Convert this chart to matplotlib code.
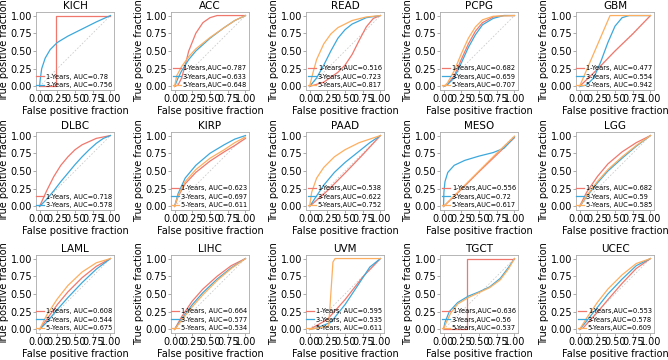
import matplotlib
matplotlib.use("Agg")
import matplotlib.pyplot as plt
from matplotlib.ticker import FormatStrFormatter

# ROC curves, 3 x 5 panels

CANCERS = ["KICH", "ACC", "READ", "PCPG", "GBM",
           "DLBC", "KIRP", "PAAD", "MESO", "LGG",
           "LAML", "LIHC", "UVM", "TGCT", "UCEC"]
YEARS = ["1-Years", "3-Years", "5-Years"]
COLORS = ["#F0776C", "#3DA8DC", "#FDAE5F"]

# each curve: [x points], [y points]
KICH_ROC = [
    ([0, 0.23, 0.23, 1], [0, 0, 1, 1]),
    ([0, 0.01, 0.03, 0.08, 0.15, 0.25, 0.4, 0.6, 0.8, 1],
     [0, 0.1, 0.25, 0.4, 0.52, 0.62, 0.71, 0.81, 0.91, 1]),
]
KICH_AUC = ["0.78", "0.756"]

ACC_ROC = [
    ([0, 0.05, 0.1, 0.15, 0.2, 0.3, 0.4, 0.5, 0.6, 1],
     [0, 0.02, 0.12, 0.3, 0.5, 0.75, 0.9, 0.97, 1, 1]),
    ([0, 0.05, 0.1, 0.2, 0.3, 0.5, 0.7, 0.85, 1],
     [0, 0.12, 0.22, 0.38, 0.5, 0.68, 0.83, 0.93, 1]),
    ([0, 0.03, 0.1, 0.2, 0.3, 0.5, 0.7, 0.85, 1],
     [0, 0.15, 0.28, 0.42, 0.53, 0.69, 0.83, 0.93, 1]),
]
ACC_AUC = ["0.787", "0.633", "0.648"]

READ_ROC = [
    ([0, 0.2, 0.4, 0.5, 0.6, 0.7, 0.8, 0.9, 1],
     [0, 0.06, 0.2, 0.3, 0.45, 0.65, 0.84, 0.96, 1]),
    ([0, 0.1, 0.2, 0.3, 0.4, 0.5, 0.6, 0.8, 1],
     [0, 0.12, 0.3, 0.5, 0.68, 0.8, 0.88, 0.97, 1]),
    ([0, 0.05, 0.1, 0.2, 0.3, 0.4, 0.6, 0.8, 1],
     [0, 0.2, 0.38, 0.6, 0.74, 0.83, 0.93, 0.98, 1]),
]
READ_AUC = ["0.516", "0.723", "0.817"]

PCPG_ROC = [
    ([0, 0.05, 0.15, 0.25, 0.35, 0.45, 0.55, 0.7, 0.85, 1],
     [0, 0.02, 0.15, 0.38, 0.6, 0.78, 0.9, 0.98, 1, 1]),
    ([0, 0.05, 0.15, 0.25, 0.35, 0.45, 0.55, 0.7, 0.85, 1],
     [0, 0.02, 0.12, 0.33, 0.55, 0.73, 0.87, 0.96, 1, 1]),
    ([0, 0.05, 0.15, 0.25, 0.35, 0.45, 0.55, 0.7, 1],
     [0, 0.04, 0.22, 0.46, 0.68, 0.84, 0.94, 0.99, 1]),
]
PCPG_AUC = ["0.682", "0.659", "0.707"]

GBM_ROC = [
    ([0, 0.25, 0.5, 0.75, 1], [0, 0.24, 0.5, 0.74, 1]),
    ([0, 0.1, 0.2, 0.3, 0.4, 0.5, 0.6, 0.7, 1],
     [0, 0.02, 0.12, 0.35, 0.62, 0.85, 0.97, 1, 1]),
    ([0, 0.43, 1], [0, 1, 1]),
]
GBM_AUC = ["0.477", "0.554", "0.942"]

DLBC_ROC = [
    ([0, 0.1, 0.2, 0.3, 0.4, 0.5, 0.6, 0.8, 1],
     [0, 0.22, 0.42, 0.58, 0.7, 0.8, 0.87, 0.96, 1]),
    ([0, 0.1, 0.2, 0.3, 0.4, 0.5, 0.6, 0.7, 0.8, 0.9, 1],
     [0, 0.1, 0.22, 0.35, 0.47, 0.59, 0.7, 0.8, 0.89, 0.96, 1]),
]
DLBC_AUC = ["0.718", "0.578"]

KIRP_ROC = [
    ([0, 0.05, 0.15, 0.3, 0.5, 0.7, 0.85, 1],
     [0, 0.14, 0.32, 0.48, 0.64, 0.77, 0.86, 0.96]),
    ([0, 0.05, 0.15, 0.3, 0.5, 0.7, 0.85, 1],
     [0, 0.18, 0.4, 0.58, 0.75, 0.87, 0.95, 1]),
    ([0, 0.05, 0.15, 0.3, 0.5, 0.7, 0.85, 1],
     [0, 0.15, 0.35, 0.52, 0.68, 0.8, 0.9, 0.98]),
]
KIRP_AUC = ["0.623", "0.697", "0.611"]

PAAD_ROC = [
    ([0, 0.25, 0.5, 0.75, 1], [0, 0.22, 0.47, 0.73, 1]),
    ([0, 0.1, 0.2, 0.35, 0.5, 0.7, 0.85, 1],
     [0, 0.15, 0.3, 0.48, 0.62, 0.78, 0.9, 1]),
    ([0, 0.03, 0.1, 0.2, 0.35, 0.5, 0.7, 0.85, 1],
     [0, 0.2, 0.4, 0.55, 0.7, 0.8, 0.9, 0.95, 1]),
]
PAAD_AUC = ["0.538", "0.622", "0.752"]

MESO_ROC = [
    ([0, 0.25, 0.5, 0.75, 1], [0, 0.24, 0.49, 0.73, 0.97]),
    ([0, 0.005, 0.02, 0.06, 0.15, 0.3, 0.5, 0.7, 0.85, 1],
     [0, 0.2, 0.35, 0.48, 0.58, 0.65, 0.71, 0.76, 0.82, 0.98]),
    ([0, 0.25, 0.5, 0.75, 1], [0, 0.25, 0.5, 0.75, 0.99]),
]
MESO_AUC = ["0.556", "0.72", "0.617"]

LGG_ROC = [
    ([0, 0.1, 0.25, 0.4, 0.6, 0.8, 1], [0, 0.2, 0.42, 0.6, 0.77, 0.9, 1]),
    ([0, 0.1, 0.25, 0.4, 0.6, 0.8, 1], [0, 0.14, 0.33, 0.5, 0.68, 0.85, 1]),
    ([0, 0.1, 0.25, 0.4, 0.6, 0.8, 1], [0, 0.15, 0.35, 0.52, 0.7, 0.86, 1]),
]
LGG_AUC = ["0.682", "0.59", "0.585"]

LAML_ROC = [
    ([0, 0.1, 0.25, 0.4, 0.6, 0.8, 1], [0, 0.14, 0.35, 0.53, 0.73, 0.89, 1]),
    ([0, 0.1, 0.25, 0.4, 0.6, 0.8, 1], [0, 0.1, 0.28, 0.45, 0.66, 0.85, 1]),
    ([0, 0.1, 0.25, 0.4, 0.6, 0.8, 1], [0, 0.2, 0.43, 0.62, 0.81, 0.94, 1]),
]
LAML_AUC = ["0.608", "0.544", "0.675"]

LIHC_ROC = [
    ([0, 0.1, 0.25, 0.4, 0.6, 0.8, 1], [0, 0.18, 0.4, 0.57, 0.75, 0.9, 1]),
    ([0, 0.1, 0.25, 0.4, 0.6, 0.8, 1], [0, 0.15, 0.35, 0.52, 0.71, 0.87, 1]),
    ([0, 0.1, 0.25, 0.4, 0.6, 0.8, 1], [0, 0.13, 0.32, 0.49, 0.69, 0.86, 1]),
]
LIHC_AUC = ["0.664", "0.577", "0.534"]

UVM_ROC = [
    ([0, 0.25, 0.5, 0.75, 1], [0, 0.14, 0.42, 0.74, 1]),
    ([0, 0.1, 0.3, 0.5, 0.7, 0.85, 1], [0, 0.02, 0.1, 0.35, 0.65, 0.88, 1]),
    ([0, 0.27, 0.3, 0.33, 0.36, 1], [0, 0.05, 0.5, 0.95, 1, 1]),
]
UVM_AUC = ["0.595", "0.535", "0.611"]

TGCT_ROC = [
    ([0, 0.33, 0.33, 1], [0, 0, 1, 1]),
    ([0, 0.02, 0.08, 0.2, 0.35, 0.5, 0.65, 0.8, 0.92, 1],
     [0, 0.1, 0.25, 0.38, 0.47, 0.53, 0.6, 0.72, 0.88, 1]),
    ([0, 0.03, 0.1, 0.2, 0.35, 0.5, 0.65, 0.8, 0.92, 1],
     [0, 0.08, 0.23, 0.36, 0.45, 0.52, 0.59, 0.7, 0.86, 1]),
]
TGCT_AUC = ["0.636", "0.56", "0.537"]

UCEC_ROC = [
    ([0, 0.05, 0.25, 0.4, 0.6, 0.8, 1], [0, 0.02, 0.24, 0.42, 0.65, 0.86, 1]),
    ([0, 0.1, 0.25, 0.4, 0.6, 0.8, 1], [0, 0.12, 0.31, 0.5, 0.71, 0.9, 1]),
    ([0, 0.1, 0.25, 0.4, 0.6, 0.8, 1], [0, 0.16, 0.38, 0.57, 0.77, 0.93, 1]),
]
UCEC_AUC = ["0.553", "0.578", "0.609"]

# legend text with or without a space after the comma
SPACED = ["KICH", "GBM", "DLBC", "KIRP", "LGG", "LAML", "LIHC", "UVM"]

PANELS = {
    "KICH": (KICH_ROC, KICH_AUC), "ACC": (ACC_ROC, ACC_AUC),
    "READ": (READ_ROC, READ_AUC), "PCPG": (PCPG_ROC, PCPG_AUC),
    "GBM": (GBM_ROC, GBM_AUC), "DLBC": (DLBC_ROC, DLBC_AUC),
    "KIRP": (KIRP_ROC, KIRP_AUC), "PAAD": (PAAD_ROC, PAAD_AUC),
    "MESO": (MESO_ROC, MESO_AUC), "LGG": (LGG_ROC, LGG_AUC),
    "LAML": (LAML_ROC, LAML_AUC), "LIHC": (LIHC_ROC, LIHC_AUC),
    "UVM": (UVM_ROC, UVM_AUC), "TGCT": (TGCT_ROC, TGCT_AUC),
    "UCEC": (UCEC_ROC, UCEC_AUC),
}

W, H = 668, 360
LEFTS = [36, 171, 306, 440, 576]   # px
TOPS = [12, 132, 255]              # px
AX_W, AX_H = 78, 78

fig = plt.figure(figsize=(W / 100, H / 100), dpi=100)

for k, name in enumerate(CANCERS):
    r, c = divmod(k, 5)
    ax = fig.add_axes([LEFTS[c] / W, 1 - (TOPS[r] + AX_H) / H, AX_W / W, AX_H / H])
    ax.plot([0, 1], [0, 1], color="#cccccc", lw=0.6, ls=(0, (2, 2)))
    roc, aucs = PANELS[name]
    sep = ", " if name in SPACED else ","
    for i, (xs, ys) in enumerate(roc):
        ax.plot(xs, ys, color=COLORS[i], lw=0.9,
                label="{}{}AUC={}".format(YEARS[i], sep, aucs[i]))
    ax.set_xlim(-0.05, 1.05)
    ax.set_ylim(-0.05, 1.05)
    ax.set_xticks([0, 0.25, 0.5, 0.75, 1])
    ax.set_yticks([0, 0.25, 0.5, 0.75, 1])
    ax.xaxis.set_major_formatter(FormatStrFormatter("%.2f"))
    ax.yaxis.set_major_formatter(FormatStrFormatter("%.2f"))
    ax.tick_params(labelsize=7, length=2, width=0.5, color="#888888", pad=1)
    for s in ax.spines.values():
        s.set_color("#aaaaaa")
        s.set_linewidth(0.6)
    ax.set_title(name, fontsize=7.5, pad=2)
    ax.set_xlabel("False positive fraction", fontsize=7, labelpad=1)
    ax.set_ylabel("True positive fraction", fontsize=7, labelpad=1)
    ax.legend(loc="lower right", fontsize=4.8, frameon=False, handlelength=1.2,
              handletextpad=0.3, labelspacing=0.35, borderaxespad=0.1,
              borderpad=0.2)

fig.savefig("out.png", dpi=100)
